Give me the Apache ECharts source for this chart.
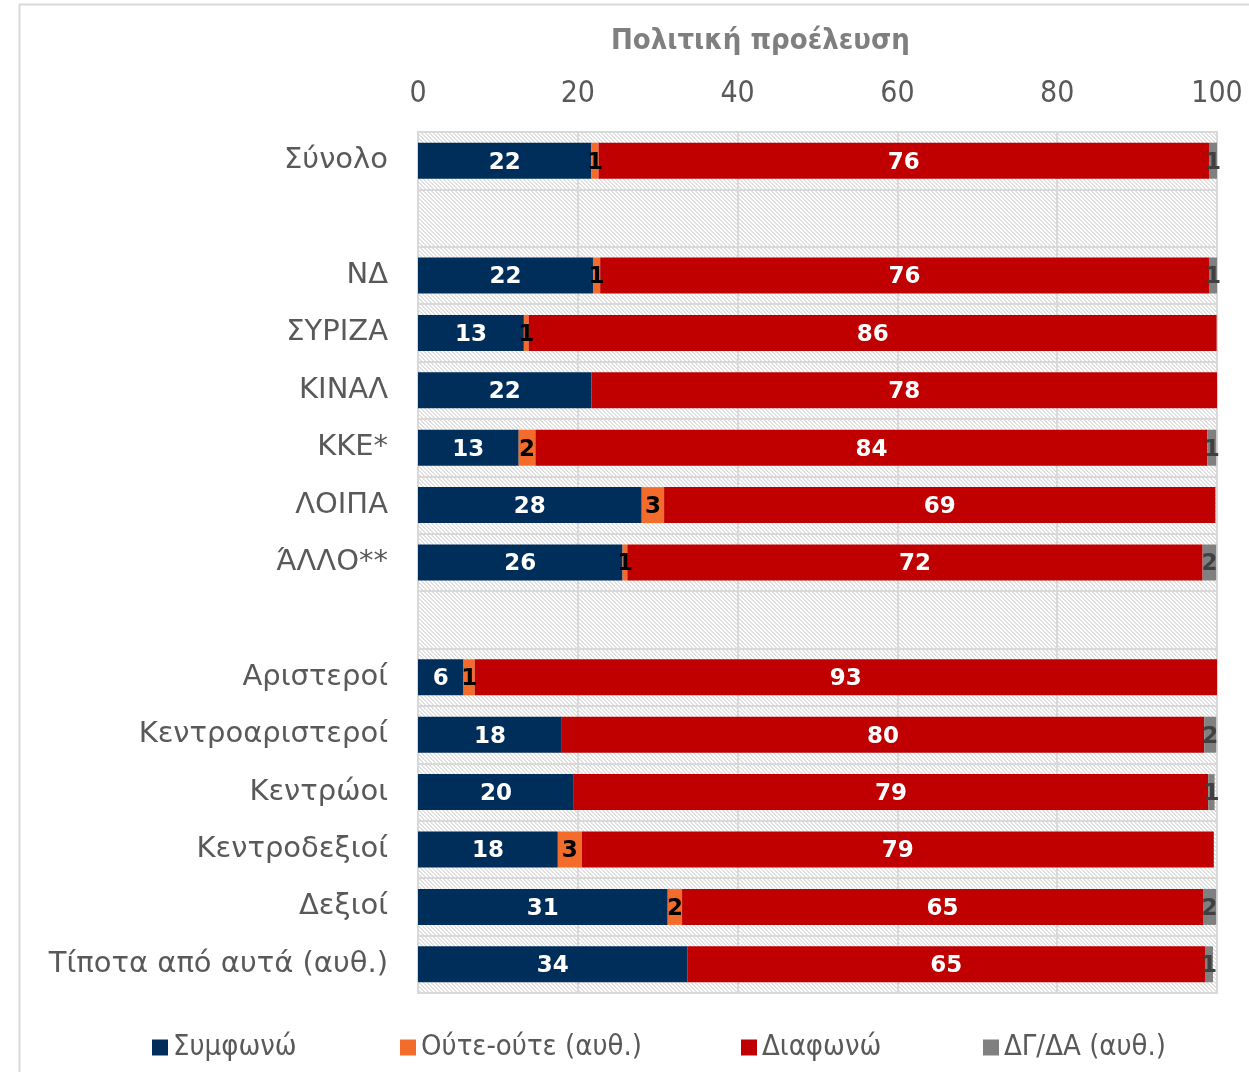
<!DOCTYPE html>
<html>
<head>
<meta charset="utf-8">
<script src="https://cdn.jsdelivr.net/npm/echarts@6/dist/echarts.min.js"></script>
<style>
html,body{margin:0;padding:0;background:#fff;}
#chart{width:1249px;height:1072px;}
</style>
</head>
<body>
<div id="chart"></div>
<script>
const categories = ['Σύνολο','','ΝΔ','ΣΥΡΙΖΑ','ΚΙΝΑΛ','ΚΚΕ*','ΛΟΙΠΑ','ΆΛΛΟ**',' ','Αριστεροί','Κεντροαριστεροί','Κεντρώοι','Κεντροδεξιοί','Δεξιοί','Τίποτα από αυτά (αυθ.)'];
const seriesNames = ['Συμφωνώ','Ούτε-ούτε (αυθ.)','Διαφωνώ','ΔΓ/ΔΑ (αυθ.)'];
const agree    = [21.7, null, 21.9, 13.25, 21.7, 12.6, 28.0, 25.6, null, 5.7, 18.0, 19.5, 17.5, 31.25, 33.7];
const neither  = [0.9, null, 0.9, 0.6, 0, 2.1, 2.8, 0.6, null, 1.4, 0, 0, 3.0, 1.8, 0];
const disagree = [76.4, null, 76.2, 86.1, 78.3, 84.1, 69.0, 72.0, null, 92.9, 80.4, 79.4, 79.1, 65.2, 64.8];
const dkna     = [1.0, null, 1.0, 0, 0, 1.1, 0, 1.7, null, 0, 1.5, 0.8, 0, 1.65, 1.0];
const xTicks = [0, 20, 40, 60, 80, 100];
const colors = ['#002E5A', '#F36C2C', '#C00000', '#808080'];
const labelColors = ['#ffffff', '#000000', '#ffffff', '#404040'];

const condensed = "'DejaVu Sans Condensed','Liberation Sans Narrow','Roboto Condensed','DejaVu Sans',sans-serif";

// hatch pattern
const pc = document.createElement('canvas');
pc.width = 4; pc.height = 4;
const ctx = pc.getContext('2d');
ctx.fillStyle = '#ffffff'; ctx.fillRect(0,0,4,4);
ctx.fillStyle = '#e0e0e0';
for (let i = 0; i < 4; i++) { ctx.fillRect(i, i, 1, 1); ctx.fillRect((i + 1) % 4, i, 1, 1); }

const chart = echarts.init(document.getElementById('chart'), null, {renderer: 'canvas'});
const allData = [agree, neither, disagree, dkna];
const legendLefts = [147, 395, 736, 978];

const option = {
  animation: false,
  backgroundColor: '#ffffff',
  title: {
    text: 'Πολιτική προέλευση',
    left: 606, top: 22,
    textStyle: {fontFamily: condensed, fontWeight: 'bold', fontSize: 29, color: '#7f7f7f'}
  },
  graphic: [{
    type: 'rect', z: -10, silent: true,
    shape: {x: 19.5, y: 4.5, width: 1300, height: 1200},
    style: {fill: 'none', stroke: '#d9d9d9', lineWidth: 2}
  }],
  legend: seriesNames.map((n, i) => ({
    data: [n], left: legendLefts[i], top: 1028,
    itemWidth: 16, itemHeight: 16, itemGap: 0,
    icon: 'rect',
    textStyle: {fontFamily: condensed, fontSize: 29, color: '#595959'}
  })),
  grid: {
    left: 418, right: 32, top: 132, bottom: 79,
    show: true,
    backgroundColor: {image: pc, repeat: 'repeat'},
    borderColor: '#d9d9d9', borderWidth: 2
  },
  xAxis: {
    type: 'value', position: 'top', min: xTicks[0], max: xTicks[xTicks.length-1], interval: 20,
    axisLine: {show: false}, axisTick: {show: false},
    axisLabel: {fontFamily: condensed, fontSize: 30, color: '#595959', margin: 23},
    splitLine: {show: true, lineStyle: {color: '#d9d9d9', width: 2}}
  },
  yAxis: {
    type: 'category', data: categories, inverse: true,
    axisLine: {show: true, lineStyle: {color: '#d9d9d9', width: 2}},
    axisTick: {show: false},
    axisLabel: {fontFamily: "'DejaVu Sans',sans-serif", fontSize: 29, color: '#595959', margin: 30, lineHeight: 34, padding: [6,0,0,0]},
    splitLine: {show: true, lineStyle: {color: '#d9d9d9', width: 2}}
  },
  series: seriesNames.map((n, i) => ({
    name: n, type: 'bar', stack: 'total', barWidth: 36,
    data: allData[i],
    itemStyle: {color: colors[i]},
    label: {
      show: true, position: 'inside', offset: [0, 2],
      fontFamily: "'DejaVu Sans',sans-serif", fontWeight: 'bold', fontSize: 23,
      color: labelColors[i],
      formatter: p => (p.value == null || p.value === 0) ? '' : String(Math.round(p.value))
    }
  }))
};
chart.setOption(option);
</script>
</body>
</html>
